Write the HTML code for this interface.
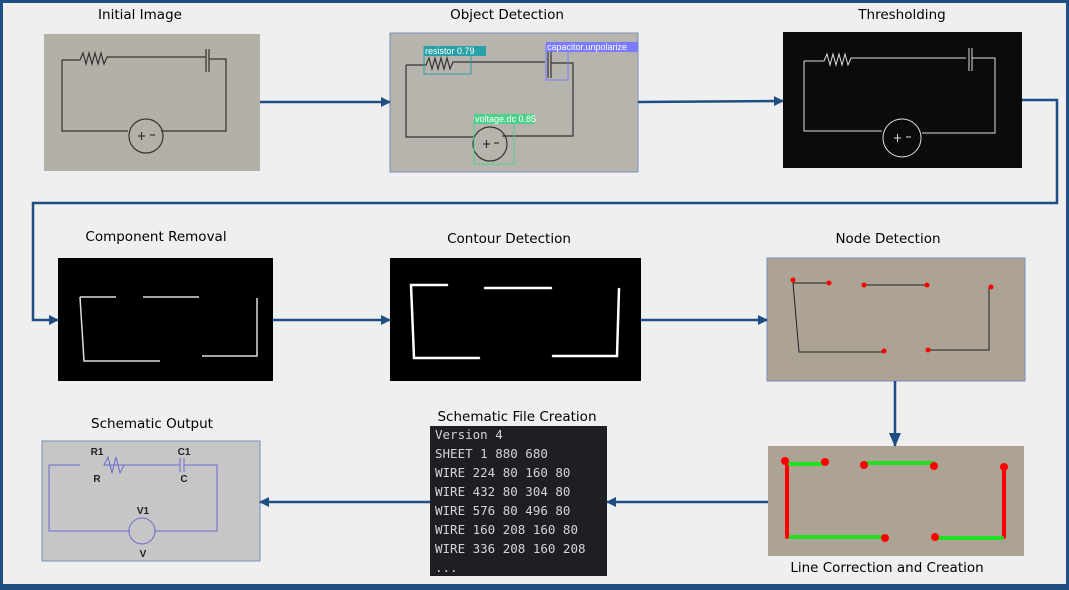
<!DOCTYPE html>
<html><head><meta charset="utf-8"><style>
body{margin:0;width:1069px;height:590px;overflow:hidden;background:#efefef}
svg{display:block}
.t{font-family:"DejaVu Sans","Liberation Sans",sans-serif;font-size:13.5px;fill:#000;text-anchor:middle}
.m{font-family:"DejaVu Sans Mono","Liberation Mono",monospace;font-size:12.5px;fill:#d4d4d4}
.lbl{font-family:"Liberation Sans",sans-serif;font-size:9px;fill:#fff}
</style></head><body>
<svg width="1069" height="590" viewBox="0 0 1069 590">
<defs>
<marker id="ah" markerWidth="10" markerHeight="10" refX="9" refY="5" orient="auto" markerUnits="userSpaceOnUse" viewBox="0 0 10 10"><path d="M0,0 L10,5 L0,10 z" fill="#1f4e82"/></marker>
<marker id="ah2" markerWidth="14" markerHeight="12" refX="13" refY="6" orient="auto" markerUnits="userSpaceOnUse"><path d="M0,0 L14,6 L0,12 z" fill="#1f4e82"/></marker>
</defs>
<rect x="1.5" y="1.5" width="1066" height="585" fill="#efefef" stroke="#1f4e82" stroke-width="3"/>
<rect x="0" y="584" width="1069" height="6" fill="#1f4e82"/>

<text class="t" x="140" y="19">Initial Image</text>
<text class="t" x="507" y="19">Object Detection</text>
<text class="t" x="902" y="19">Thresholding</text>
<text class="t" x="156" y="241">Component Removal</text>
<text class="t" x="509" y="243">Contour Detection</text>
<text class="t" x="888" y="243">Node Detection</text>
<text class="t" x="152" y="428">Schematic Output</text>
<text class="t" x="517" y="421">Schematic File Creation</text>
<text class="t" x="887" y="572">Line Correction and Creation</text>

<g>
<rect x="44" y="34" width="216" height="137" fill="#b3b0a7"/>
<g fill="none" stroke="#333" stroke-width="1.2">
<path d="M62,60 H80 l3,-7 3,11 3,-11 3,11 3,-11 3,11 3,-11 3,11 3,-7 H206 M206,49 V72 M209,49 V72 M209,59 H226 V131 H161 M62,60 V131 H128"/>
<circle cx="146" cy="136" r="17"/>
<path d="M138,136 h7 M141.5,132 v8 M150,135 h5"/>
</g></g>

<g>
<rect x="390" y="33" width="248" height="139" fill="#b6b4ad" stroke="#7a8fbf"/>
<g fill="none" stroke="#333" stroke-width="1.2">
<path d="M406,65 V137 H474 M406,65 H426 l3,-7 3,11 3,-11 3,11 3,-11 3,11 3,-11 3,11 3,-7 H545 M548,50 V78 M551,50 V78 M551,63 H573 V136 H502"/>
<circle cx="490" cy="144" r="17"/>
<path d="M483,144 h7 M486.5,140 v8 M494,143 h5"/>
</g>
<rect x="424" y="47" width="47" height="27" fill="none" stroke="#2aa0a8"/>
<rect x="424" y="46" width="62" height="10" fill="#2aa0a8"/>
<text class="lbl" x="425" y="54">resistor 0.79</text>
<rect x="546" y="44" width="22" height="36" fill="none" stroke="#7b7bff"/>
<rect x="546" y="42" width="92" height="10" fill="#7b7bff"/>
<text class="lbl" x="547" y="50">capacitor.unpolarize</text>
<rect x="474" y="122" width="40" height="42" fill="none" stroke="#4ed08a"/>
<rect x="474" y="114" width="60" height="10" fill="#4ed08a"/>
<text class="lbl" x="475" y="122">voltage.dc 0.85</text>
</g>

<g>
<rect x="783" y="32" width="239" height="136" fill="#0b0b0b"/>
<g fill="none" stroke="#ddd" stroke-width="1">
<path d="M804,61 V131 H882 M804,61 H824 l3,-7 3,11 3,-11 3,11 3,-11 3,11 3,-11 3,11 3,-7 H966 M969,48 V71 M972,48 V71 M972,58 H995 V133 H922"/>
<circle cx="902" cy="138" r="19"/>
<path d="M894,138 h7 M897.5,134 v8 M906,137 h5"/>
</g></g>

<g>
<rect x="58" y="258" width="215" height="123" fill="#000"/>
<g fill="none" stroke="#ddd" stroke-width="1.5">
<path d="M80,297 H116 M80,297 L84,361 H160 M143,297 H199 M202,356 H257 V298"/>
</g></g>

<g>
<rect x="390" y="258" width="251" height="123" fill="#000"/>
<g fill="none" stroke="#fff" stroke-width="2.5" stroke-linecap="round">
<path d="M447,285 H411 L414,358 H479 M485,288 H551 M553,356 H617 L619,289"/>
</g></g>

<g>
<rect x="767" y="258" width="258" height="123" fill="#aca394" stroke="#7a8fbf"/>
<g fill="none" stroke="#222" stroke-width="1">
<path d="M830,283 H793 L799,352 H883 M864,285 H927 M929,350 H989 V287"/>
</g>
<g fill="#f00">
<circle cx="793" cy="280" r="2.5"/><circle cx="829" cy="283" r="2.5"/><circle cx="864" cy="285" r="2.5"/><circle cx="927" cy="285" r="2.5"/>
<circle cx="991" cy="287" r="2.5"/><circle cx="884" cy="351" r="2.5"/><circle cx="928" cy="350" r="2.5"/>
</g></g>

<g>
<rect x="768" y="446" width="256" height="110" fill="#aca394"/>
<g stroke-width="4" stroke-linecap="round" fill="none">
<path d="M787,461 V537 M1004,467 V537" stroke="#f00"/>
<path d="M790,464 H825 M863,463 H934 M791,537 H885 M936,538 H1002" stroke="#20e020"/>
</g>
<g fill="#f00">
<circle cx="785" cy="461" r="4"/><circle cx="825" cy="462" r="4"/><circle cx="864" cy="465" r="4"/><circle cx="934" cy="466" r="4"/>
<circle cx="1004" cy="467" r="4"/><circle cx="885" cy="538" r="4"/><circle cx="935" cy="537" r="4"/>
</g></g>

<g>
<rect x="430" y="426" width="177" height="150" fill="#1e1f24"/>
<text class="m" x="435" y="439">Version 4</text>
<text class="m" x="435" y="458">SHEET 1 880 680</text>
<text class="m" x="435" y="477">WIRE 224 80 160 80</text>
<text class="m" x="435" y="496">WIRE 432 80 304 80</text>
<text class="m" x="435" y="515">WIRE 576 80 496 80</text>
<text class="m" x="435" y="534">WIRE 160 208 160 80</text>
<text class="m" x="435" y="553">WIRE 336 208 160 208</text>
<text class="m" x="435" y="572">...</text>
</g>

<g>
<rect x="42" y="441" width="218" height="120" fill="#c6c6c6" stroke="#7a8fbf"/>
<g fill="none" stroke="#6a6ad0" stroke-width="1">
<path d="M80,465 H49 V531 H130 M155,531 H217 V465 H184 M180,458 V472 M184,458 V472 M180,465 H104 l4,-8 4,16 4,-16 4,16 4,-8"/>
<circle cx="142" cy="531" r="13"/>
</g>
<g font-family="Liberation Sans,sans-serif" font-size="10" font-weight="bold" text-anchor="middle" fill="#222">
<text x="97" y="455">R1</text><text x="97" y="482">R</text>
<text x="184" y="455">C1</text><text x="184" y="482">C</text>
<text x="143" y="514">V1</text><text x="143" y="557">V</text>
</g></g>

<g stroke="#1f4e82" stroke-width="2.5" fill="none">
<path d="M260,102 H390" marker-end="url(#ah)"/>
<path d="M638,102 L783,101" marker-end="url(#ah)"/>
<path d="M1022,100 H1057 V203 H33 V320 H58" marker-end="url(#ah)"/>
<path d="M273,320 H390" marker-end="url(#ah)"/>
<path d="M641,320 H767" marker-end="url(#ah)"/>
<path d="M895,381 V446" marker-end="url(#ah2)"/>
<path d="M768,502 H607" marker-end="url(#ah)"/>
<path d="M430,502 H260" marker-end="url(#ah)"/>
</g>
</svg>
</body></html>
